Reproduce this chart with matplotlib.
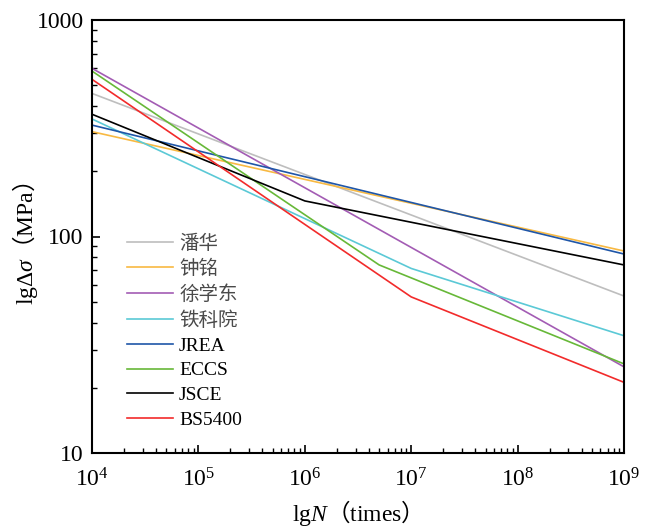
import matplotlib
matplotlib.use("Agg")
import matplotlib.pyplot as plt
from matplotlib.ticker import LogLocator, FixedLocator, FixedFormatter, NullFormatter
import numpy as np

plt.rcParams['font.family'] = ['Liberation Serif', 'Noto Sans CJK SC']
plt.rcParams['mathtext.fontset'] = 'custom'
plt.rcParams['mathtext.rm'] = 'Liberation Serif'
plt.rcParams['mathtext.it'] = 'Liberation Serif:italic'
plt.rcParams['mathtext.sf'] = 'Noto Sans CJK SC'   # used only for the full-width brackets

# ---- data (cycles N, stress range MPa) ----
names = ['潘华', '钟铭', '徐学东', '铁科院', 'JREA', 'ECCS', 'JSCE', 'BS5400']
colors = ['#BEBEBE', '#F8B942', '#A35CB4', '#5BC9D6', '#1F56A8', '#67B838', '#000000', '#F22B2B']

pan_N = [1e4, 1e9];           pan_S = [458, 53.1]
zhong_N = [1e4, 1e9];         zhong_S = [305, 85.7]
xu_N = [1e4, 1e9];            xu_S = [598, 25.0]
tky_N = [1e4, 1e7, 1e9];      tky_S = [349, 71.2, 34.8]
jrea_N = [1e4, 1e9];          jrea_S = [327, 83.0]
eccs_N = [1e4, 5e6, 1e9];     eccs_S = [581, 73.9, 25.8]
jsce_N = [1e4, 1e6, 1e9];     jsce_S = [367, 146, 73.9]
bs_N = [1e4, 1e7, 1e9];       bs_S = [532, 52.6, 21.2]

series_N = [pan_N, zhong_N, xu_N, tky_N, jrea_N, eccs_N, jsce_N, bs_N]
series_S = [pan_S, zhong_S, xu_S, tky_S, jrea_S, eccs_S, jsce_S, bs_S]

x_ticks = [1e4, 1e5, 1e6, 1e7, 1e8, 1e9]
x_ticklabels = [r'$\mathregular{10^{4}}$', r'$\mathregular{10^{5}}$', r'$\mathregular{10^{6}}$',
                r'$\mathregular{10^{7}}$', r'$\mathregular{10^{8}}$', r'$\mathregular{10^{9}}$']
y_ticks = [10, 100, 1000]
y_ticklabels = ['10', '100', '1000']

x_label_math = r'$\mathrm{lg}N\mathsf{（}\mathrm{times}\mathsf{）}$'
y_label_math = r'$\mathrm{lg}\Delta\sigma\mathsf{（}\mathrm{MPa}\mathsf{）}$'
x_label_plain = 'lgN（times）'
y_label_plain = 'lgΔσ（MPa）'

W, H = 652, 527
fig = plt.figure(figsize=(W / 100, H / 100), dpi=100)
ax = fig.add_axes([92 / W, (H - 453) / H, (624 - 92) / W, (453 - 20) / H])

for N, S, c, nm in zip(series_N, series_S, colors, names):
    ax.plot(N, S, color=c, lw=1.2, label=nm)

ax.set_xscale('log')
ax.set_yscale('log')
ax.set_xlim(1e4, 1e9)
ax.set_ylim(10, 1000)

ax.xaxis.set_major_locator(FixedLocator(x_ticks))
ax.xaxis.set_major_formatter(FixedFormatter(x_ticklabels))
ax.yaxis.set_major_locator(FixedLocator(y_ticks))
ax.yaxis.set_major_formatter(FixedFormatter(y_ticklabels))
ax.xaxis.set_minor_locator(LogLocator(base=10, subs=np.arange(2, 10), numticks=20))
ax.yaxis.set_minor_locator(LogLocator(base=10, subs=np.arange(2, 10), numticks=20))
ax.xaxis.set_minor_formatter(NullFormatter())
ax.yaxis.set_minor_formatter(NullFormatter())
ax.tick_params(which='major', direction='in', length=6, width=1.2, labelsize=17,
               top=False, right=False)
ax.tick_params(which='minor', direction='in', length=3.5, width=1.0, top=False, right=False)
ax.tick_params(axis='x', which='major', pad=11)
ax.tick_params(axis='y', which='major', pad=6)
for sp in ax.spines.values():
    sp.set_linewidth(1.5)

leg = ax.legend(loc='upper left', bbox_to_anchor=(0.065, 0.505), frameon=False,
                fontsize=14, handlelength=2.4, handletextpad=0.3, labelspacing=0.37,
                borderpad=0, borderaxespad=0)
for t in leg.get_texts():
    if not t.get_text().isascii():
        t.set_color('#4a4a4a')

# ---- axis labels: one text object each ----
xl = fig.text(351 / W, (H - 521) / H, x_label_math, fontsize=17, ha='center', va='baseline')
yl = fig.text(25 / W, (H - 243.5) / H, y_label_math, fontsize=17, rotation=90,
              ha='center', va='center')
try:
    fig.canvas.draw()
except Exception:
    xl.remove()
    yl.remove()
    fig.text(351 / W, (H - 521) / H, x_label_plain, fontsize=17, ha='center', va='baseline')
    fig.text(25 / W, (H - 243.5) / H, y_label_plain, fontsize=17, rotation=90,
             ha='center', va='center')

fig.savefig('out.png', dpi=100)
